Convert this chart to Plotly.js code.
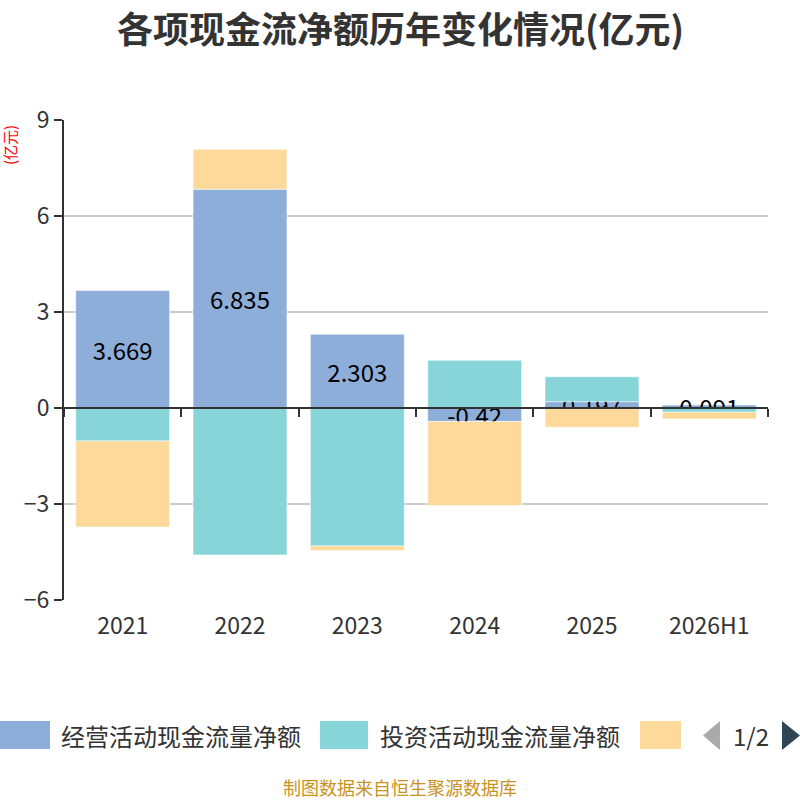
<!DOCTYPE html>
<html>
<head>
<meta charset="utf-8">
<script src="https://cdn.plot.ly/plotly-3.0.1.min.js"></script>
<style>
  html, body { margin: 0; padding: 0; background: #fff; }
  #chart { width: 800px; height: 800px; }
</style>
</head>
<body>
<div id="chart"></div>
<script>
// 年份
const years = ["2021", "2022", "2023", "2024", "2025", "2026H1"];
// 各项现金流净额 (亿元)
const operating = [3.669, 6.835, 2.303, -0.42, 0.197, 0.091];
const investing = [-1.03, -4.59, -4.31, 1.49, 0.78, -0.13];
const financing = [-2.69, 1.25, -0.14, -2.63, -0.60, -0.21];
const seriesNames = ["经营活动现金流量净额", "投资活动现金流量净额", "筹资活动现金流量净额"];
const colors = ["#8eaeda", "#87d5d8", "#fdd99b"];

const FONT = "'Noto Sans CJK SC', 'Noto Sans', sans-serif";

// 画布坐标 -> paper 坐标
const L = 64, R = 768, T = 120, B = 600;
const px = x => (x - L) / (R - L);
const py = y => (B - y) / (B - T);

const barLine = { width: 1, color: "rgba(255,255,255,0.5)" };

const traces = [
  {
    type: "bar", name: seriesNames[0], x: years, y: operating,
    marker: { color: colors[0], line: barLine },
    text: operating.map(v => String(v)),
    textposition: "inside", insidetextanchor: "middle", constraintext: "none",
    textfont: { family: FONT, size: 24, color: "#000" },
    hoverinfo: "x+y+name"
  },
  {
    type: "bar", name: seriesNames[1], x: years, y: investing,
    marker: { color: colors[1], line: barLine },
    hoverinfo: "x+y+name"
  },
  {
    type: "bar", name: seriesNames[2], x: years, y: financing,
    marker: { color: colors[2], line: barLine },
    hoverinfo: "x+y+name"
  },
  // 零线上的x轴刻度
  {
    type: "scatter", mode: "none", x: years, y: years.map(() => null),
    xaxis: "x2", showlegend: false, hoverinfo: "skip"
  }
];

// 自制图例
const shapes = [];
const annotations = [];
const legendItems = [
  { x0: 0, x1: 50, textX: 59, label: seriesNames[0] },
  { x0: 320, x1: 368, textX: 378, label: seriesNames[1] },
  { x0: 640, x1: 681, textX: null, label: "" }
];
legendItems.forEach((it, i) => {
  shapes.push({
    type: "rect", xref: "paper", yref: "paper",
    x0: px(it.x0), x1: px(it.x1), y0: py(749), y1: py(721),
    fillcolor: colors[i], line: { width: 0 }, layer: "above"
  });
  if (it.textX !== null) {
    annotations.push({
      xref: "paper", yref: "paper", x: px(it.textX), y: py(735),
      xanchor: "left", yanchor: "middle", showarrow: false,
      text: it.label, font: { family: FONT, size: 24, color: "#333" }
    });
  }
});
// 翻页按钮
const tri = (pts) => "M" + pts.map(p => px(p[0]) + "," + py(p[1])).join(" L") + " Z";
shapes.push({
  type: "path", xref: "paper", yref: "paper",
  path: tri([[720, 721], [720, 750], [703, 735.5]]),
  fillcolor: "#aaaaaa", line: { width: 0 }
});
shapes.push({
  type: "path", xref: "paper", yref: "paper",
  path: tri([[782, 721], [782, 750], [800, 735.5]]),
  fillcolor: "#2f4554", line: { width: 0 }
});
annotations.push({
  xref: "paper", yref: "paper", x: px(751), y: py(735),
  xanchor: "center", yanchor: "middle", showarrow: false,
  text: "1/2", font: { family: FONT, size: 24, color: "#333" }
});
// 单位
annotations.push({
  xref: "paper", yref: "paper", x: px(9), y: py(145),
  xanchor: "center", yanchor: "middle", showarrow: false, textangle: -90,
  text: "(亿元)", font: { family: FONT, size: 15, color: "#ff0000" }
});
// 数据来源
annotations.push({
  xref: "paper", yref: "paper", x: px(400), y: py(787),
  xanchor: "center", yanchor: "middle", showarrow: false,
  text: "制图数据来自恒生聚源数据库", font: { family: FONT, size: 18, color: "#c8921e" }
});

// 标题
annotations.push({
  xref: "paper", yref: "paper", x: px(400), y: py(27),
  xanchor: "center", yanchor: "middle", showarrow: false,
  text: "<b>各项现金流净额历年变化情况(亿元)</b>",
  font: { family: FONT, size: 36, color: "#333" }
});

const layout = {
  width: 800, height: 800,
  margin: { l: L, r: 800 - R, t: T, b: 800 - B, pad: 0 },
  paper_bgcolor: "#fff", plot_bgcolor: "#fff",
  font: { family: FONT, color: "#333" },
  barmode: "relative",
  bargap: 0.2,
  showlegend: false,
  xaxis: {
    type: "category", range: [-0.5, 5.5],
    showline: false, showgrid: false, zeroline: false,
    ticks: "outside", ticklen: 5, tickcolor: "rgba(0,0,0,0)",
    tickfont: { family: FONT, size: 23, color: "#333" },
    fixedrange: true
  },
  xaxis2: {
    type: "category", overlaying: "x", anchor: "free", position: py(408),
    range: [-0.5, 5.5],
    showline: true, linecolor: "#333", linewidth: 2,
    ticks: "outside", tickson: "boundaries", ticklen: 8, tickwidth: 2, tickcolor: "#333",
    showticklabels: false, showgrid: false, zeroline: false
  },
  yaxis: {
    range: [-6, 9], dtick: 3, tick0: 0,
    showline: true, linecolor: "#333", linewidth: 2,
    ticks: "outside", ticklen: 8, tickwidth: 2, tickcolor: "#333",
    gridcolor: "#cccccc", gridwidth: 2, zeroline: false,
    tickfont: { family: FONT, size: 23, color: "#333" },
    fixedrange: true
  },
  shapes: shapes,
  annotations: annotations
};

Plotly.newPlot("chart", traces, layout, { displayModeBar: false, staticPlot: true });
</script>
</body>
</html>
